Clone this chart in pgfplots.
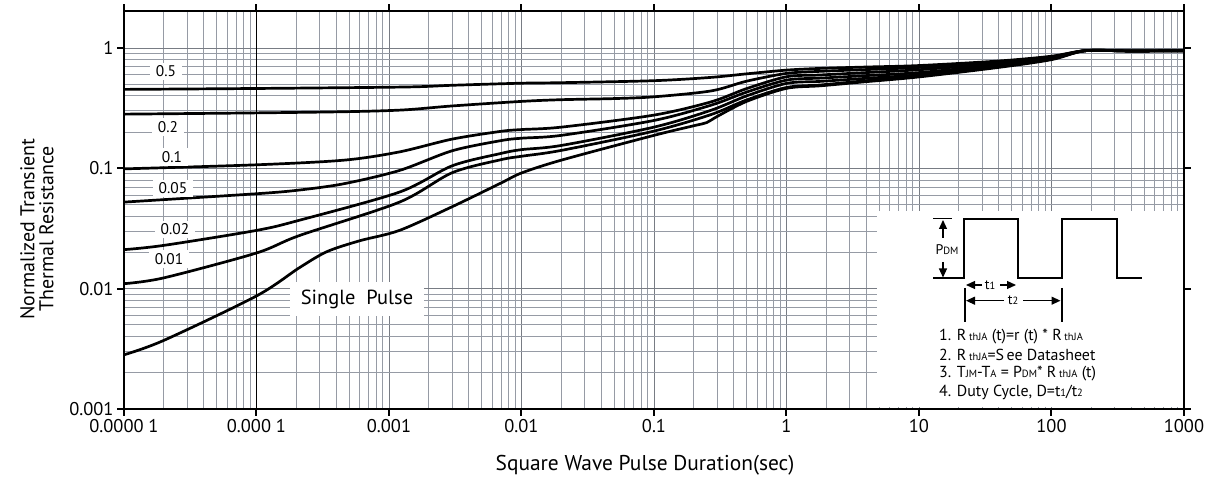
\documentclass[border=0pt]{standalone}
\usepackage{pgfplots}
\pgfplotsset{compat=1.18}
\usepackage{pgfplotstable}
\usepackage{fontspec}
\setmainfont{PT Sans}
\usetikzlibrary{arrows.meta}

\definecolor{gridc}{RGB}{150,155,165}

% transient thermal impedance curves, one table per duty cycle
\pgfplotstableread{
x y
1e-5 0.453
1e-4 0.461
1.3e-3 0.474
3e-3 0.49
1e-2 0.51
2e-2 0.515
0.1 0.535
0.27 0.57
0.5 0.61
1 0.655
1.8 0.677
4 0.695
10 0.715
40 0.78
100 0.855
180 0.95
400 0.945
1000 0.95
}\dfive
\pgfplotstableread{
x y
1e-5 0.282
1e-4 0.289
5e-4 0.296
1.3e-3 0.306
3e-3 0.33
1e-2 0.36
2e-2 0.372
5e-2 0.38
0.1 0.393
0.27 0.44
0.5 0.53
1 0.615
1.8 0.64
4 0.662
10 0.69
40 0.765
100 0.845
180 0.95
400 0.945
1000 0.95
}\dtwo
\pgfplotstableread{
x y
1e-5 0.099
1e-4 0.107
4.6e-4 0.117
1.2e-3 0.137
3e-3 0.175
7e-3 0.203
1e-2 0.21
2e-2 0.22
0.1 0.277
0.27 0.357
0.5 0.46
1 0.577
1.8 0.597
4 0.625
10 0.66
40 0.745
100 0.835
180 0.95
400 0.945
1000 0.95
}\done
\pgfplotstableread{
x y
1e-5 0.0524
1e-4 0.0615
2.1e-4 0.066
4.6e-4 0.0746
1.2e-3 0.096
3e-3 0.14
7e-3 0.17
1e-2 0.178
2e-2 0.188
0.1 0.25
0.27 0.335
0.5 0.43
1 0.541
1.8 0.562
4 0.59
10 0.625
40 0.725
100 0.825
180 0.95
400 0.945
1000 0.95
}\dfivehund
\pgfplotstableread{
x y
1e-5 0.0211
2e-5 0.0229
1e-4 0.0305
2.1e-4 0.037
1.2e-3 0.0635
3e-3 0.105
7e-3 0.133
1e-2 0.143
2e-2 0.155
0.1 0.22
0.27 0.304
0.5 0.4
1 0.508
1.8 0.528
4 0.56
10 0.6
40 0.71
100 0.815
180 0.95
400 0.945
1000 0.95
}\dtwohund
\pgfplotstableread{
x y
1e-5 0.011
2e-5 0.0123
1e-4 0.0198
2.1e-4 0.0276
1.2e-3 0.0524
3e-3 0.092
7e-3 0.118
1e-2 0.126
2e-2 0.141
0.1 0.204
0.27 0.28
0.5 0.37
1 0.47
1.8 0.493
4 0.535
10 0.585
40 0.7
100 0.81
180 0.95
400 0.945
1000 0.95
}\donehund
\pgfplotstableread{
x y
1e-5 0.00282
2e-5 0.00372
1e-4 0.0087
2.1e-4 0.0149
3.4e-4 0.0203
6e-4 0.025
1.2e-3 0.0305
3e-3 0.048
7e-3 0.0755
1e-2 0.0915
2e-2 0.117
0.1 0.188
0.2 0.226
0.25 0.24
0.3 0.27
0.5 0.36
1 0.462
1.8 0.485
4 0.525
10 0.575
40 0.69
100 0.80
180 0.95
400 0.945
1000 0.95
}\dsingle

\newcommand{\sub}[1]{{\fontsize{10.5}{11}\selectfont #1}}

\begin{document}
\begin{tikzpicture}
\begin{axis}[
  scale only axis, width=1060bp, height=398bp,
  xmode=log, ymode=log,
  xmin=1e-5, xmax=1000, ymin=1e-3, ymax=2.03,
  xtick={1e-5,1e-4,1e-3,1e-2,1e-1,1,10,100,1000},
  xticklabels={0.0000 1,0.000 1,0.001,0.01,0.1,1,10,100,1000},
  ytick={1e-3,1e-2,1e-1,1},
  yticklabels={0.001,0.01,0.1,1},
  extra x ticks={1e-4}, extra x tick labels={},
  extra x tick style={major grid style={black, line width=1.2bp}},
  grid=both,
  minor grid style={gridc, line width=0.9bp},
  major grid style={gridc!80!black, line width=0.9bp},
  axis line style={line width=2.4bp},
  tick align=outside,
  major tick length=7bp, minor tick length=0pt,
  tick style={black, line width=2bp},
  ticklabel style={font=\fontsize{18.5}{20}\selectfont},
  /pgf/number format/assume math mode=true,
  curve/.style={black, solid, line width=2.7bp, mark=none, smooth, tension=0.5},
]
\addplot[curve] table {\dfive};
\addplot[curve] table {\dtwo};
\addplot[curve] table {\done};
\addplot[curve] table {\dfivehund};
\addplot[curve] table {\dtwohund};
\addplot[curve] table {\donehund};
\addplot[curve] table {\dsingle};

\begin{scope}[every node/.style={fill=white, inner xsep=6bp, inner ysep=3bp, font=\fontsize{15.5}{16}\selectfont}]
\node at (rel axis cs:0.0396,0.849) {0.5};
\node at (rel axis cs:0.0415,0.7085) {0.2};
\node at (rel axis cs:0.0453,0.633) {0.1};
\node at (rel axis cs:0.0462,0.555) {0.05};
\node at (rel axis cs:0.0481,0.452) {0.02};
\node at (rel axis cs:0.0425,0.377) {0.01};
\end{scope}
\node[fill=white, minimum width=134bp, minimum height=34bp, font=\fontsize{20.5}{21}\selectfont]
  at (rel axis cs:0.2198,0.2764) {Single\ \ Pulse};
\end{axis}

% inset, drawn in picture pixels (origin top left of the image)
\begin{scope}[shift={(-124bp,409bp)}, x=1bp, y=-1bp]
\fill[white] (877,211) rectangle (1182.5,407.5);
\draw[line width=2bp, line join=miter] (933,278.3) -- (964,278.3) -- (964,219) -- (1017.7,219)
  -- (1017.7,278.3) -- (1061.7,278.3) -- (1061.7,219) -- (1116.7,219) -- (1116.7,278.3) -- (1141.7,278.3);
\draw[line width=1bp] (933,219) -- (952,219);
\draw[line width=1.2bp, -{Triangle[length=9bp,width=8bp]}] (943,238) -- (943,220);
\draw[line width=1.2bp, -{Triangle[length=9bp,width=8bp]}] (943,262) -- (943,277.5);
\node[font=\fontsize{14}{15}\selectfont, inner sep=0pt] at (947,250) {P\sub{DM}};
\draw[line width=1.2bp, -{Triangle[length=9bp,width=8bp]}] (982,285) -- (966,285);
\node[font=\fontsize{14}{15}\selectfont, inner sep=0pt] at (990,285) {t\sub{1}};
\draw[line width=1.2bp, -{Triangle[length=9bp,width=8bp]}] (1000,285) -- (1016,285);
\draw[line width=1.6bp] (965,288) -- (965,322) (1061.7,288) -- (1061.7,322);
\draw[line width=1.2bp, -{Triangle[length=9bp,width=8bp]}] (1004,300.7) -- (966,300.7);
\node[font=\fontsize{14}{15}\selectfont, inner sep=0pt] at (1013,300.7) {t\sub{2}};
\draw[line width=1.2bp, -{Triangle[length=9bp,width=8bp]}] (1023,300.7) -- (1060.5,300.7);
\begin{scope}[every node/.style={anchor=west, inner sep=0pt, font=\fontsize{16}{17}\selectfont}]
\node at (939,337) {1. R\,\sub{thJA} (t)=r (t) * R\,\sub{thJA}};
\node at (939,355) {2. R\,\sub{thJA}=S\,ee Datasheet};
\node at (939,374) {3. T\sub{JM}-T\sub{A} = P\sub{DM}* R\,\sub{thJA} (t)};
\node at (939,392) {4. Duty Cycle, D=t\sub{1}/t\sub{2}};
\end{scope}
\node[rotate=90, align=center, font=\fontsize{20}{19}\selectfont] at (37,229)
  {Normalized Transient\\Thermal Resistance};
\node[font=\fontsize{21.5}{22}\selectfont] at (645,465) {Square Wave Pulse Duration(sec)};
\pgfresetboundingbox
\path[use as bounding box] (0,0) rectangle (1219,487);
\end{scope}
\end{tikzpicture}
\end{document}
